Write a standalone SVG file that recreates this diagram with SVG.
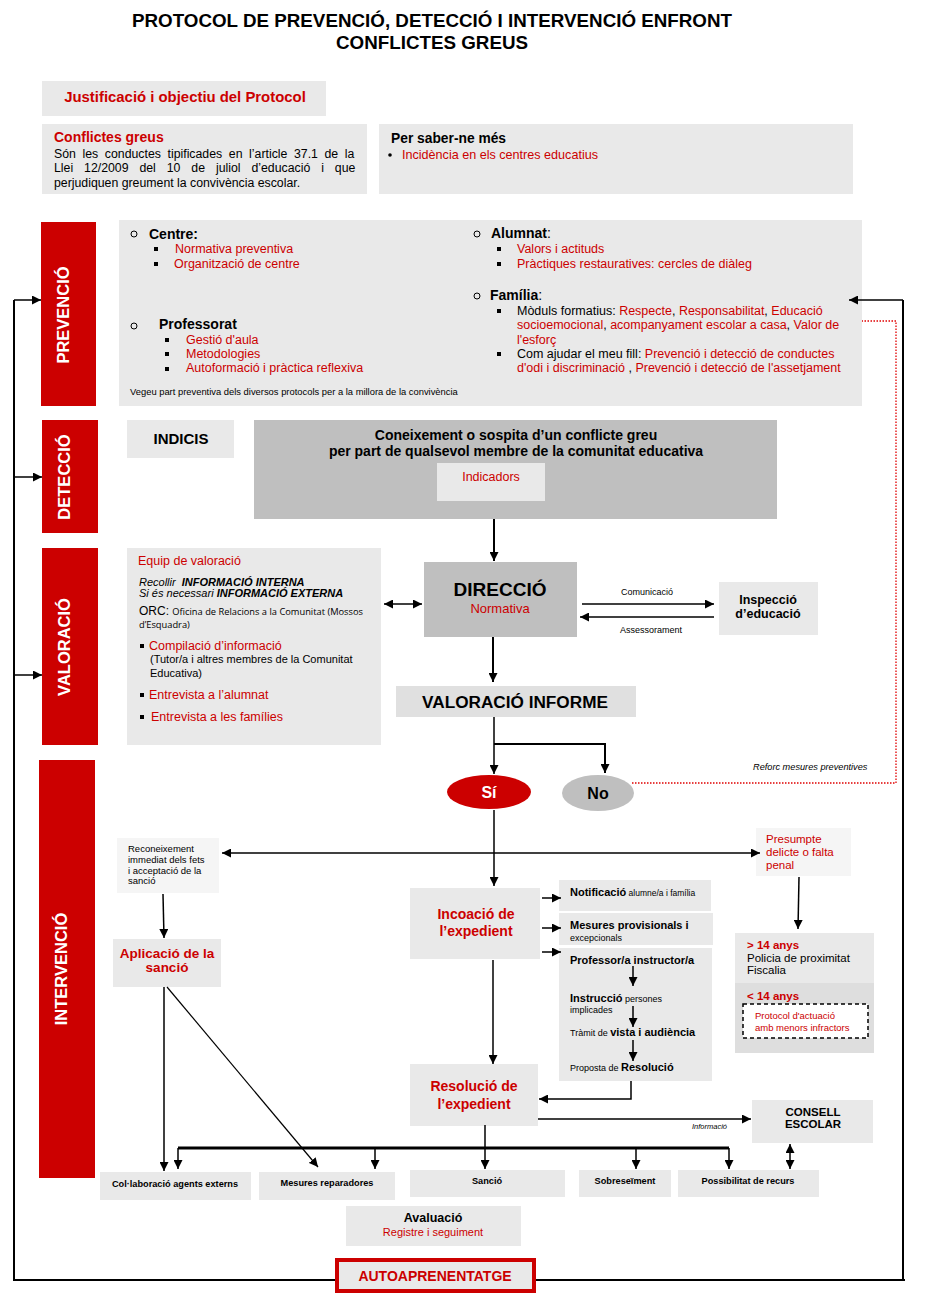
<svg xmlns="http://www.w3.org/2000/svg" width="928" height="1293" viewBox="0 0 928 1293">
<defs>
<style>
text{font-family:"Liberation Sans",Arial,sans-serif;fill:#000}
.b{font-weight:bold}
.i{font-style:italic}
.r{fill:#cc0000}
.w{fill:#fff}
.m{text-anchor:middle}
.lb{fill:#e9e9e9}
.vl{fill:#f5f5f5}
.db{fill:#bfbfbf}
.bar{fill:#cc0000}
.bl{fill:#000}
.ci{fill:none;stroke:#000;stroke-width:1}
.os{font-family:"Open Sans","Noto Sans",sans-serif}
</style>
<marker id="ah" viewBox="0 0 10 10" refX="10" refY="5" markerWidth="9" markerHeight="9" markerUnits="userSpaceOnUse" orient="auto-start-reverse">
<path d="M0,0 L10,5 L0,10 z" fill="#000"/>
</marker>
</defs>
<rect width="928" height="1293" fill="#fff"/>

<g id="title">
<text class="b m" x="432" y="27" font-size="18.8">PROTOCOL DE PREVENCIÓ, DETECCIÓ I INTERVENCIÓ ENFRONT</text>
<text class="b m" x="432" y="49" font-size="18.8">CONFLICTES GREUS</text>
</g>

<g id="justificacio">
<rect class="lb" x="42" y="81" width="284" height="35"/>
<text class="b r m" x="185" y="102" font-size="14.9">Justificació i objectiu del Protocol</text>
</g>

<g id="conflictes">
<rect class="lb" x="42" y="124" width="325" height="70"/>
<text class="b r" x="54" y="142" font-size="14">Conflictes greus</text>
<text x="54" y="158" font-size="12.3" word-spacing="3.2">Són les conductes tipificades en l’article 37.1 de la</text>
<text x="54" y="172" font-size="12.3" word-spacing="7.5">Llei 12/2009 del 10 de juliol d’educació i que</text>
<text x="54" y="187" font-size="12.3">perjudiquen greument la convivència escolar.</text>
</g>

<g id="saber">
<rect class="lb" x="379" y="124" width="474" height="70"/>
<text class="b" x="391" y="143" font-size="13.8">Per saber-ne més</text>
<circle class="bl" cx="390" cy="155" r="1.8"/>
<text class="r" x="402" y="159" font-size="12.6">Incidència en els centres educatius</text>
</g>

<g id="prevencio-bar">
<rect class="bar" x="41" y="222" width="55" height="184"/>
<text class="b w m" font-size="16.5" transform="translate(69,315) rotate(-90)">PREVENCIÓ</text>
</g>
<g id="deteccio-bar">
<rect class="bar" x="42" y="420" width="56" height="113"/>
<text class="b w m" font-size="16.5" transform="translate(70,477) rotate(-90)">DETECCIÓ</text>
</g>
<g id="valoracio-bar">
<rect class="bar" x="42" y="548" width="56" height="197"/>
<text class="b w m" font-size="16.5" transform="translate(70,647) rotate(-90)">VALORACIÓ</text>
</g>
<g id="intervencio-bar">
<rect class="bar" x="39" y="760" width="56" height="418"/>
<text class="b w m" font-size="16.5" transform="translate(67,969) rotate(-90)">INTERVENCIÓ</text>
</g>

<g id="prevencio">
<rect class="lb" x="119" y="220" width="743" height="186"/>
<circle class="ci" cx="134" cy="234" r="3"/>
<text class="b" x="149" y="239" font-size="14">Centre:</text>
<rect class="bl" x="154" y="247" width="4" height="4"/>
<text class="r" x="175" y="253" font-size="12.5">Normativa preventiva</text>
<rect class="bl" x="154" y="262" width="4" height="4"/>
<text class="r" x="174" y="268" font-size="12.5">Organització de centre</text>
<circle class="ci" cx="134" cy="326" r="3"/>
<text class="b" x="159" y="329" font-size="14">Professorat</text>
<rect class="bl" x="165" y="338" width="4" height="4"/>
<text class="r" x="186" y="344" font-size="12.5">Gestió d'aula</text>
<rect class="bl" x="165" y="352" width="4" height="4"/>
<text class="r" x="186" y="358" font-size="12.5">Metodologies</text>
<rect class="bl" x="165" y="367" width="4" height="4"/>
<text class="r" x="186" y="372" font-size="12.5">Autoformació i pràctica reflexiva</text>
<text x="130" y="395" font-size="9.4">Vegeu part preventiva dels diversos protocols per a la millora de la convivència</text>

<circle class="ci" cx="477" cy="234" r="3"/>
<text x="491" y="238" font-size="14"><tspan class="b">Alumnat</tspan>:</text>
<rect class="bl" x="497" y="247" width="4" height="4"/>
<text class="r" x="517" y="253" font-size="12.5">Valors i actituds</text>
<rect class="bl" x="497" y="262" width="4" height="4"/>
<text class="r" x="517" y="268" font-size="12.5">Pràctiques restauratives: cercles de diàleg</text>
<circle class="ci" cx="477" cy="296" r="3"/>
<text x="490" y="300" font-size="14"><tspan class="b">Família</tspan>:</text>
<rect class="bl" x="497" y="309" width="4" height="4"/>
<text x="517" y="315" font-size="12.5">Mòduls formatius: <tspan class="r">Respecte</tspan>, <tspan class="r">Responsabilitat</tspan>, <tspan class="r">Educació</tspan></text>
<text x="517" y="329" font-size="12.5"><tspan class="r">socioemocional</tspan>, <tspan class="r">acompanyament escolar a casa</tspan>, <tspan class="r">Valor de</tspan></text>
<text class="r" x="517" y="344" font-size="12.5">l'esforç</text>
<rect class="bl" x="497" y="352" width="4" height="4"/>
<text x="517" y="358" font-size="12.5">Com ajudar el meu fill: <tspan class="r">Prevenció i detecció de conductes</tspan></text>
<text x="517" y="372" font-size="12.5"><tspan class="r">d'odi i discriminació</tspan> , <tspan class="r">Prevenció i detecció de l'assetjament</tspan></text>
</g>

<g id="indicis">
<rect class="lb" x="127" y="420" width="107" height="38"/>
<text class="b m" x="181" y="444" font-size="15">INDICIS</text>
</g>

<g id="coneixement">
<rect class="db" x="254" y="420" width="523" height="99"/>
<text class="b m" x="516" y="440" font-size="14">Coneixement o sospita d’un conflicte greu</text>
<text class="b m" x="516" y="456" font-size="14">per part de qualsevol membre de la comunitat educativa</text>
</g>
<g id="indicadors">
<rect class="lb" x="437" y="463" width="108" height="38"/>
<text class="r m" x="491" y="481" font-size="12.5">Indicadors</text>
</g>

<g id="equip">
<rect class="lb" x="127" y="548" width="254" height="197"/>
<text class="r" x="138" y="565" font-size="12.5">Equip de valoració</text>
<text class="i" x="139" y="586" font-size="11">Recollir <tspan class="b" dx="3">INFORMACIÓ INTERNA</tspan></text>
<text class="i" x="139" y="597" font-size="11">Si és necessari <tspan class="b">INFORMACIÓ EXTERNA</tspan></text>
<text x="139" y="615" font-size="12">ORC: <tspan class="os" font-size="9.3">Oficina de Relacions a la Comunitat (Mossos</tspan></text>
<text class="os" x="139" y="628" font-size="9.3">d’Esquadra)</text>
<rect class="bl" x="140" y="644" width="4" height="4"/>
<text class="r" x="149" y="650" font-size="12.5">Compilació d’informació</text>
<text x="150" y="663" font-size="11">(Tutor/a i altres membres de la Comunitat</text>
<text x="150" y="677" font-size="11">Educativa)</text>
<rect class="bl" x="140" y="693" width="4" height="4"/>
<text class="r" x="149" y="699" font-size="12.5">Entrevista a l’alumnat</text>
<rect class="bl" x="140" y="715" width="4" height="4"/>
<text class="r" x="151" y="721" font-size="12.5">Entrevista a les famílies</text>
</g>

<g id="direccio">
<rect class="db" x="424" y="562" width="153" height="75"/>
<text class="b m" x="500" y="596" font-size="19">DIRECCIÓ</text>
<text class="r m" x="500" y="613" font-size="13">Normativa</text>
</g>

<g id="inspeccio">
<rect class="lb" x="719" y="582" width="99" height="53"/>
<text class="b m" x="768" y="604" font-size="12.5">Inspecció</text>
<text class="b m" x="768" y="618" font-size="12.5">d’educació</text>
</g>

<g id="valoracio-informe">
<rect fill="#e0e0e0" x="396" y="686" width="240" height="31"/>
<text class="b m" x="515" y="708" font-size="17.2">VALORACIÓ INFORME</text>
</g>

<g id="si">
<ellipse class="bar" cx="489" cy="792" rx="42" ry="17"/>
<text class="b w m" x="489" y="798" font-size="16">Sí</text>
</g>
<g id="no">
<ellipse class="db" cx="598" cy="793" rx="36" ry="18"/>
<text class="b m" x="598" y="799" font-size="16">No</text>
</g>

<g id="reconeixement">
<rect class="vl" x="117" y="838" width="102" height="55"/>
<text x="128" y="852" font-size="9.5">Reconeixement</text>
<text x="128" y="863" font-size="9.5">immediat dels fets</text>
<text x="128" y="874" font-size="9.5">i acceptació de la</text>
<text x="128" y="884" font-size="9.5">sanció</text>
</g>

<g id="aplicacio">
<rect class="lb" x="113" y="939" width="108" height="48"/>
<text class="b r m" x="167" y="958" font-size="13.5">Aplicació de la</text>
<text class="b r m" x="167" y="972" font-size="13.5">sanció</text>
</g>

<g id="incoacio">
<rect class="lb" x="410" y="888" width="130" height="71"/>
<text class="b r m" x="476" y="919" font-size="14">Incoació de</text>
<text class="b r m" x="476" y="936" font-size="14">l’expedient</text>
</g>

<g id="notificacio">
<rect class="lb" x="559" y="880" width="152" height="31"/>
<text x="570" y="896"><tspan class="b" font-size="11">Notificació</tspan><tspan font-size="8.5"> alumne/a i família</tspan></text>
</g>
<g id="mesures-provisionals">
<rect class="lb" x="559" y="913" width="154" height="32"/>
<text class="b" x="570" y="929" font-size="11">Mesures provisionals i</text>
<text x="570" y="941" font-size="9">excepcionals</text>
</g>
<g id="professor">
<rect class="lb" x="559" y="948" width="153" height="133"/>
<text class="b" x="570" y="964" font-size="11">Professor/a instructor/a</text>
<text x="570" y="1002"><tspan class="b" font-size="11">Instrucció</tspan><tspan font-size="9"> persones</tspan></text>
<text x="570" y="1013" font-size="9">implicades</text>
<text x="570" y="1036"><tspan font-size="9">Tràmit de </tspan><tspan class="b" font-size="11">vista i audiència</tspan></text>
<text x="570" y="1071"><tspan font-size="9">Proposta de </tspan><tspan class="b" font-size="11">Resolució</tspan></text>
</g>

<g id="presumpte">
<rect class="vl" x="756" y="828" width="95" height="48"/>
<text class="r" x="766" y="843" font-size="11.5">Presumpte</text>
<text class="r" x="766" y="856" font-size="11.5">delicte o falta</text>
<text class="r" x="766" y="869" font-size="11.5">penal</text>
</g>

<g id="majors14">
<rect class="lb" x="735" y="933" width="139" height="50"/>
<text class="b r" x="747" y="949" font-size="11.5">&gt; 14 anys</text>
<text x="747" y="962" font-size="11.5">Policia de proximitat</text>
<text x="747" y="974" font-size="11.5">Fiscalia</text>
</g>
<g id="menors14">
<rect fill="#dedede" x="735" y="983" width="139" height="70"/>
<text class="b r" x="747" y="1000" font-size="11.5">&lt; 14 anys</text>
<rect x="743" y="1004" width="125" height="34" fill="#fff" stroke="#000" stroke-width="1.5" stroke-dasharray="4,3"/>
<text class="r" x="755" y="1019" font-size="9.5">Protocol d'actuació</text>
<text class="r" x="755" y="1031" font-size="9.5">amb menors infractors</text>
</g>

<g id="resolucio">
<rect class="lb" x="410" y="1064" width="128" height="62"/>
<text class="b r m" x="474" y="1091" font-size="14">Resolució de</text>
<text class="b r m" x="474" y="1109" font-size="14">l’expedient</text>
</g>

<g id="consell">
<rect class="lb" x="752" y="1100" width="121" height="43"/>
<text class="b m" x="813" y="1116" font-size="11.5">CONSELL</text>
<text class="b m" x="813" y="1128" font-size="11.5">ESCOLAR</text>
</g>

<g id="collaboracio">
<rect class="lb" x="100" y="1172" width="151" height="28"/>
<text class="b m" x="175" y="1187" font-size="9.2">Col·laboració agents externs</text>
</g>
<g id="mesures-reparadores">
<rect class="lb" x="259" y="1172" width="136" height="28"/>
<text class="b m" x="327" y="1186" font-size="9.2">Mesures reparadores</text>
</g>
<g id="sancio">
<rect class="lb" x="410" y="1170" width="155" height="27"/>
<text class="b m" x="487" y="1184" font-size="9.2">Sanció</text>
</g>
<g id="sobreseiment">
<rect class="lb" x="579" y="1170" width="92" height="27"/>
<text class="b m" x="625" y="1184" font-size="9.2">Sobreseïment</text>
</g>
<g id="recurs">
<rect class="lb" x="678" y="1170" width="141" height="27"/>
<text class="b m" x="748" y="1184" font-size="9.2">Possibilitat de recurs</text>
</g>

<g id="avaluacio">
<rect class="lb" x="346" y="1206" width="175" height="40"/>
<text class="b m" x="433" y="1222" font-size="12.5">Avaluació</text>
<text class="r m" x="433" y="1236" font-size="11">Registre i seguiment</text>
</g>

<g id="connectors" fill="none" stroke="#000" stroke-width="1.5">
<path d="M14,300 L14,1280 L905,1280 M903,1280 L903,300" stroke-width="2"/>
<path d="M903,300 L849,300" marker-end="url(#ah)"/>
<path d="M14,300 L41,300" marker-end="url(#ah)"/>
<path d="M14,477 L42,477" marker-end="url(#ah)"/>
<path d="M14,675 L42,675" marker-end="url(#ah)"/>
<path d="M632,783 L896,783 L896,321 L862,321" stroke="#e00000" stroke-width="1.3" stroke-dasharray="1.5,1.5"/>
<path d="M494,519 L494,561" stroke-width="2" marker-end="url(#ah)"/>
<path d="M384,604 L422,604" marker-start="url(#ah)" marker-end="url(#ah)"/>
<path d="M582,604 L714,604" marker-end="url(#ah)"/>
<path d="M714,617 L580,617" marker-end="url(#ah)"/>
<path d="M493,637 L493,682" stroke-width="2" marker-end="url(#ah)"/>
<path d="M494,717 L494,774" marker-end="url(#ah)"/>
<path d="M494,744 L605,744 L605,773" stroke-width="2" marker-end="url(#ah)"/>
<path d="M494,810 L494,886" marker-end="url(#ah)"/>
<path d="M222,853 L760,853" marker-start="url(#ah)" marker-end="url(#ah)"/>
<path d="M163,894 L164,938" marker-end="url(#ah)"/>
<path d="M799,877 L798,929" marker-end="url(#ah)"/>
<path d="M542,898 L561,898" marker-end="url(#ah)"/>
<path d="M542,928 L561,928" marker-end="url(#ah)"/>
<path d="M542,952 L561,952" marker-end="url(#ah)"/>
<path d="M633,966 L633,986" marker-end="url(#ah)"/>
<path d="M633,1006 L633,1027" marker-end="url(#ah)"/>
<path d="M633,1040 L633,1061" marker-end="url(#ah)"/>
<path d="M493,960 L493,1064" marker-end="url(#ah)"/>
<path d="M631,1081 L631,1099 L539,1099" marker-end="url(#ah)"/>
<path d="M538,1119 L751,1119" marker-end="url(#ah)"/>
<path d="M790,1144 L790,1169" marker-start="url(#ah)" marker-end="url(#ah)"/>
<path d="M178,1148 L729,1148" stroke-width="3"/>
<path d="M178,1148 L178,1169" marker-end="url(#ah)"/>
<path d="M375,1148 L375,1169" marker-end="url(#ah)"/>
<path d="M636,1148 L636,1169" marker-end="url(#ah)"/>
<path d="M729,1148 L729,1169" marker-end="url(#ah)"/>
<path d="M485,1125 L485,1169" marker-end="url(#ah)"/>
<path d="M164,987 L164,1171" marker-end="url(#ah)"/>
<path d="M167,987 L318,1167" stroke-width="1.2" marker-end="url(#ah)"/>
</g>

<g id="labels">
<text x="647" y="595" font-size="9" class="m">Comunicació</text>
<text x="651" y="633" font-size="9" class="m">Assessorament</text>
<text class="i" x="753" y="770" font-size="9.2">Reforc mesures preventives</text>
<text class="i" x="692" y="1129" font-size="7.5">Informació</text>
</g>

<g id="autoaprenentatge">
<rect x="337" y="1260" width="197" height="31" fill="#e9e9e9" stroke="#cc0000" stroke-width="4"/>
<text class="b r m" x="435" y="1281" font-size="14">AUTOAPRENENTATGE</text>
</g>
</svg>
